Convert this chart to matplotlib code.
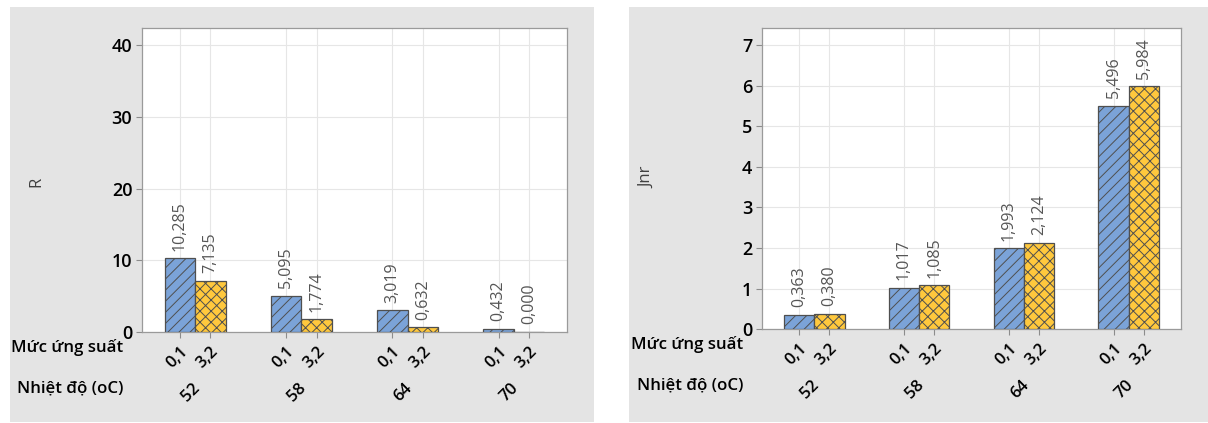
import matplotlib
matplotlib.use("Agg")
import matplotlib.pyplot as plt
from matplotlib.patches import Rectangle
from matplotlib.transforms import blended_transform_factory

plt.rcParams['font.family'] = ['Open Sans', 'DejaVu Sans']
plt.rcParams['hatch.linewidth'] = 0.7

# Số liệu thí nghiệm MSCR
nhiet_do = ["52", "58", "64", "70"]
muc_ung_suat = ["0,1", "3,2"]
r_01 = [10.285, 5.095, 3.019, 0.432]
r_32 = [7.135, 1.774, 0.632, 0.000]
jnr_01 = [0.363, 1.017, 1.993, 5.496]
jnr_32 = [0.380, 1.085, 2.124, 5.984]

MAU_XANH = "#7BA3D8"
MAU_VANG = "#FFC83D"
VIEN = "#4f4f4f"

fig = plt.figure(figsize=(12.08, 4.23), dpi=100)
W, H = 1208, 423


def px(x, y):
    return x / W, 1 - y / H


# nền xám của hai khung
for x0, x1 in [(9.6, 594), (629, 1208)]:
    fig.patches.append(Rectangle(px(x0, 421.7), (x1 - x0) / W, (421.7 - 7.3) / H,
                                 transform=fig.transFigure, facecolor="#e4e4e4",
                                 edgecolor="none", zorder=-5))


def ve_bieu_do(rect, v01, v32, ylim, yticks, ylabel, ylabel_x, ylabel_y, bottom_px, left_px):
    ax = fig.add_axes(rect, zorder=2)
    bw = 0.288
    pos01 = [i + 0.5 - bw / 2 for i in range(len(nhiet_do))]
    pos32 = [i + 0.5 + bw / 2 for i in range(len(nhiet_do))]
    b1 = ax.bar(pos01, v01, width=bw, color=MAU_XANH, edgecolor=VIEN, linewidth=0.9,
                hatch="///", zorder=3)
    b2 = ax.bar(pos32, v32, width=bw, color=MAU_VANG, edgecolor=VIEN, linewidth=0.9,
                hatch="xxx", zorder=3)
    for bars, vals in [(b1, v01), (b2, v32)]:
        for b, v in zip(bars, vals):
            ax.annotate(f"{v:.3f}".replace(".", ","),
                        (b.get_x() + b.get_width() / 2, v),
                        xytext=(0, 5.5), textcoords="offset points",
                        rotation=90, ha="center", va="bottom",
                        fontsize=11.5, color="#555555")
    ax.set_xlim(0, len(nhiet_do))
    ax.set_ylim(*ylim)
    ax.set_yticks(yticks)
    ax.set_yticklabels([str(t) for t in yticks], fontsize=13, fontweight="semibold")
    ticks = sorted(pos01 + pos32)
    ax.set_xticks(ticks)
    ax.set_xticklabels(muc_ung_suat * len(nhiet_do), rotation=45, ha="right", va="top",
                       rotation_mode="anchor", fontsize=12, fontweight="semibold")
    ax.tick_params(axis="both", color="#8c8c8c", length=4, width=0.8)
    ax.tick_params(axis="x", pad=4)
    ax.tick_params(axis="y", pad=3)
    ax.grid(True, color="#e6e6e6", linewidth=0.8, zorder=0)
    ax.set_axisbelow(True)
    for s in ax.spines.values():
        s.set_color("#9a9a9a")
        s.set_linewidth(0.9)

    # nhãn nhiệt độ dưới từng nhóm
    tr = blended_transform_factory(ax.transData, fig.transFigure)
    for i, t in enumerate(nhiet_do):
        ax.text(i + 0.5 - 0.04, 1 - (bottom_px + 60) / H, t, transform=tr, rotation=45,
                ha="center", va="center", fontsize=12, fontweight="semibold")

    fig.text(*px(left_px - 19, bottom_px + 15), "Mức ứng suất", ha="right", va="center",
             fontsize=12.2, fontweight="semibold")
    fig.text(*px(left_px - 19, bottom_px + 56), "Nhiệt độ (oC)", ha="right", va="center",
             fontsize=12.2, fontweight="semibold")
    fig.text(*px(ylabel_x, ylabel_y), ylabel, rotation=90, ha="center", va="center",
             fontsize=12, color="#404040")
    return ax


ve_bieu_do([142 / W, 1 - 332 / H, 425 / W, (332 - 28.3) / H], r_01, r_32,
           (0, 42.4), [0, 10, 20, 30, 40], "R", 36, 182, 332, 142)
ve_bieu_do([762 / W, 1 - 329.3 / H, 419 / W, (329.3 - 28.3) / H], jnr_01, jnr_32,
           (0, 7.41), [0, 1, 2, 3, 4, 5, 6, 7], "Jnr", 647, 177, 329.3, 762)

fig.savefig("out.png", dpi=100)
